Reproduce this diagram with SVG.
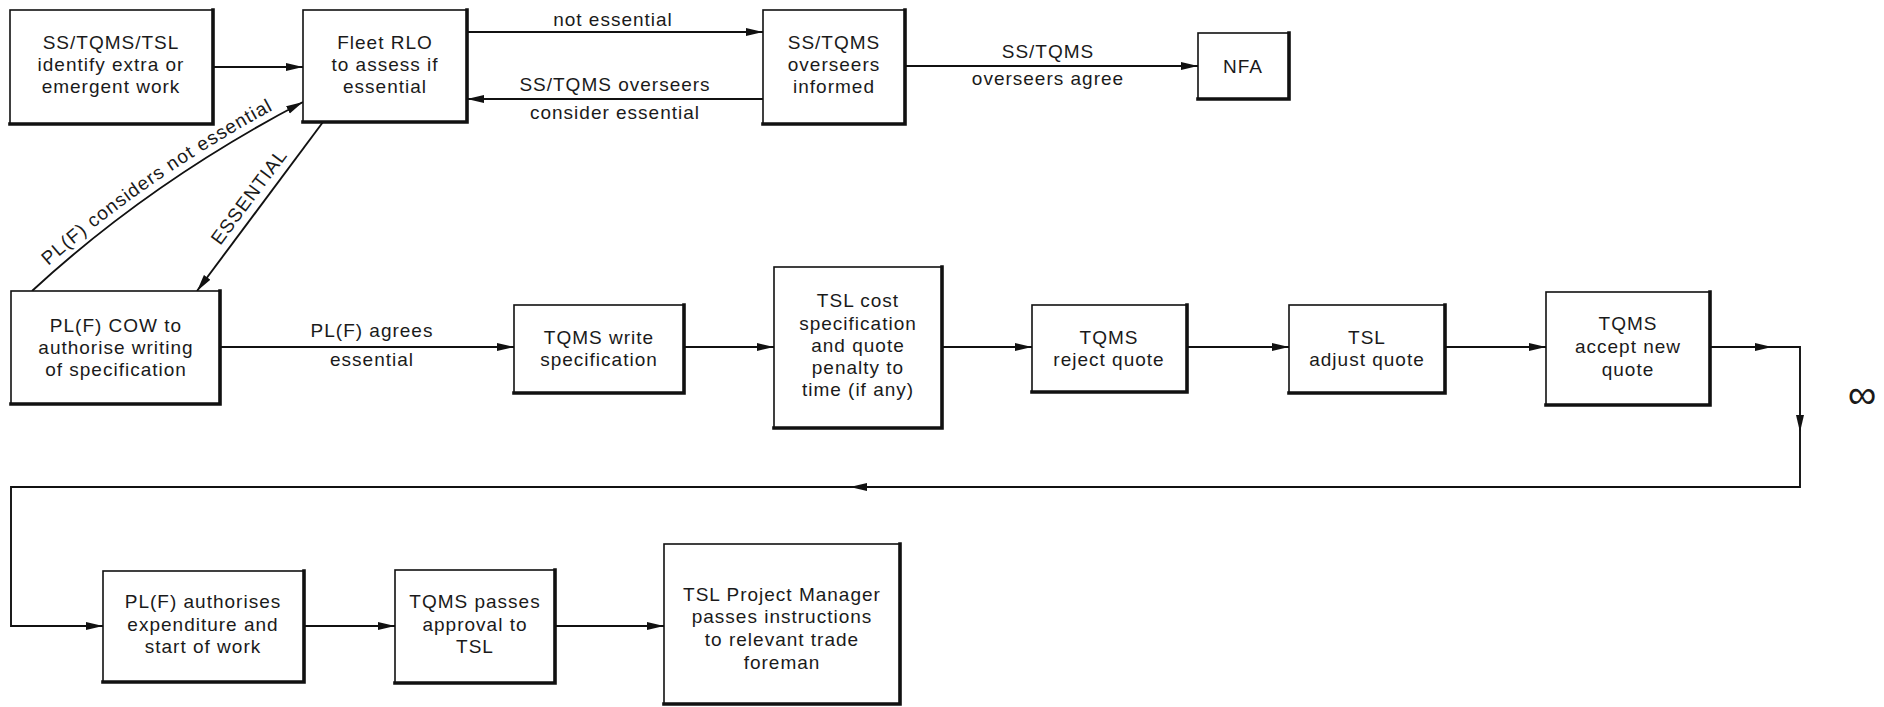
<svg xmlns="http://www.w3.org/2000/svg" width="1884" height="707" viewBox="0 0 1884 707">
<style>
  .box { fill: #fff; stroke: #111; stroke-width: 1.6; }
  .sh { fill: none; stroke: #111; stroke-width: 3.6; stroke-linecap: square; }
  .t { font-family: "Liberation Sans", Arial, sans-serif; font-size: 19px; letter-spacing: 1px; fill: #1a1a1a; text-anchor: middle; }
  .ca { fill: none; stroke: #111; stroke-width: 1.9; marker-end: url(#ah); }
</style>
<defs>
  <marker id="ah" markerUnits="userSpaceOnUse" markerWidth="18" markerHeight="10" refX="17" refY="5" orient="auto">
    <path d="M0,1 L17,5 L0,9 z" fill="#111"/>
  </marker>
  <path id="lp1" d="M27,285 Q145,176 299,96"/>
</defs>
<rect width="1884" height="707" fill="#fff"/>

<g id="connectors">
  <path class="ca" d="M213,67 H303"/>
  <path class="ca" d="M467,32 H763"/>
  <path class="ca" d="M763,99 H467"/>
  <path class="ca" d="M905,66 H1198"/>
  <path class="ca" d="M32,291 Q150,182 303,102"/>
  <path class="ca" d="M323,122 L197,291"/>
  <path class="ca" d="M220,347 H514"/>
  <path class="ca" d="M684,347 H774"/>
  <path class="ca" d="M942,347 H1032"/>
  <path class="ca" d="M1187,347 H1289"/>
  <path class="ca" d="M1445,347 H1546"/>
  <path class="ca" d="M1710,347 H1772"/>
  <path class="ca" d="M1772,347 H1800 V432"/>
  <path class="ca" d="M1800,432 V487 H850"/>
  <path class="ca" d="M850,487 H11 V626 H103"/>
  <path class="ca" d="M304,626 H395"/>
  <path class="ca" d="M555,626 H664"/>
  <text class="t" x="613" y="26">not essential</text>
  <text class="t" x="615" y="91">SS/TQMS overseers</text>
  <text class="t" x="615" y="119">consider essential</text>
  <text class="t" x="1048" y="58">SS/TQMS</text>
  <text class="t" x="1048" y="85">overseers agree</text>
  <text class="t" x="372" y="337">PL(F) agrees</text>
  <text class="t" x="372" y="366">essential</text>
  <text class="t"><textPath href="#lp1" startOffset="50%">PL(F) considers not essential</textPath></text>
  <text class="t" transform="translate(259,204) rotate(-53.3)" y="-6">ESSENTIAL</text>
</g>

<g id="n1">
  <rect class="box" x="10" y="10" width="203" height="114"/>
  <path class="sh" d="M213,10 V124 H10"/>
  <text class="t" x="111" y="49">SS/TQMS/TSL</text>
  <text class="t" x="111" y="71">identify extra or</text>
  <text class="t" x="111" y="93">emergent work</text>
</g>
<g id="n2">
  <rect class="box" x="303" y="10" width="164" height="112"/>
  <path class="sh" d="M467,10 V122 H303"/>
  <text class="t" x="385" y="49">Fleet RLO</text>
  <text class="t" x="385" y="71">to assess if</text>
  <text class="t" x="385" y="93">essential</text>
</g>
<g id="n3">
  <rect class="box" x="763" y="10" width="142" height="114"/>
  <path class="sh" d="M905,10 V124 H763"/>
  <text class="t" x="834" y="49">SS/TQMS</text>
  <text class="t" x="834" y="71">overseers</text>
  <text class="t" x="834" y="93">informed</text>
</g>
<g id="n4">
  <rect class="box" x="1198" y="33" width="91" height="66"/>
  <path class="sh" d="M1289,33 V99 H1198"/>
  <text class="t" x="1243" y="73">NFA</text>
</g>
<g id="n5">
  <rect class="box" x="11" y="291" width="209" height="113"/>
  <path class="sh" d="M220,291 V404 H11"/>
  <text class="t" x="116" y="332">PL(F) COW to</text>
  <text class="t" x="116" y="354">authorise writing</text>
  <text class="t" x="116" y="376">of specification</text>
</g>
<g id="n6">
  <rect class="box" x="514" y="305" width="170" height="88"/>
  <path class="sh" d="M684,305 V393 H514"/>
  <text class="t" x="599" y="344">TQMS write</text>
  <text class="t" x="599" y="366">specification</text>
</g>
<g id="n7">
  <rect class="box" x="774" y="267" width="168" height="161"/>
  <path class="sh" d="M942,267 V428 H774"/>
  <text class="t" x="858" y="307">TSL cost</text>
  <text class="t" x="858" y="330">specification</text>
  <text class="t" x="858" y="352">and quote</text>
  <text class="t" x="858" y="374">penalty to</text>
  <text class="t" x="858" y="396">time (if any)</text>
</g>
<g id="n8">
  <rect class="box" x="1032" y="305" width="155" height="87"/>
  <path class="sh" d="M1187,305 V392 H1032"/>
  <text class="t" x="1109" y="344">TQMS</text>
  <text class="t" x="1109" y="366">reject quote</text>
</g>
<g id="n9">
  <rect class="box" x="1289" y="305" width="156" height="88"/>
  <path class="sh" d="M1445,305 V393 H1289"/>
  <text class="t" x="1367" y="344">TSL</text>
  <text class="t" x="1367" y="366">adjust quote</text>
</g>
<g id="n10">
  <rect class="box" x="1546" y="292" width="164" height="113"/>
  <path class="sh" d="M1710,292 V405 H1546"/>
  <text class="t" x="1628" y="330">TQMS</text>
  <text class="t" x="1628" y="353">accept new</text>
  <text class="t" x="1628" y="376">quote</text>
</g>
<g id="n11">
  <rect class="box" x="103" y="571" width="201" height="111"/>
  <path class="sh" d="M304,571 V682 H103"/>
  <text class="t" x="203" y="608">PL(F) authorises</text>
  <text class="t" x="203" y="631">expenditure and</text>
  <text class="t" x="203" y="653">start of work</text>
</g>
<g id="n12">
  <rect class="box" x="395" y="570" width="160" height="113"/>
  <path class="sh" d="M555,570 V683 H395"/>
  <text class="t" x="475" y="608">TQMS passes</text>
  <text class="t" x="475" y="631">approval to</text>
  <text class="t" x="475" y="653">TSL</text>
</g>
<g id="n13">
  <rect class="box" x="664" y="544" width="236" height="160"/>
  <path class="sh" d="M900,544 V704 H664"/>
  <text class="t" x="782" y="601">TSL Project Manager</text>
  <text class="t" x="782" y="623">passes instructions</text>
  <text class="t" x="782" y="646">to relevant trade</text>
  <text class="t" x="782" y="669">foreman</text>
</g>
<text class="t" x="1862" y="408" style="font-size:40px;letter-spacing:0">∞</text>
</svg>
